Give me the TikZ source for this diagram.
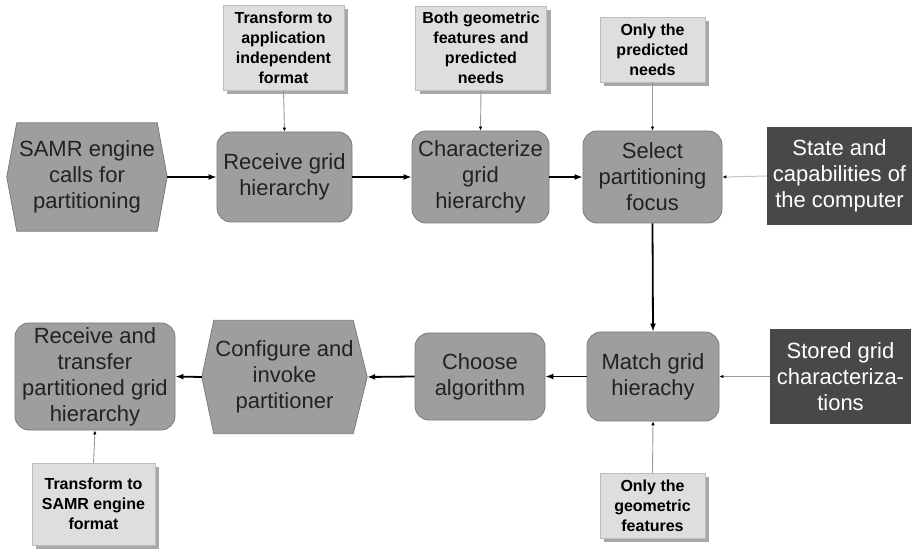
\documentclass[tikz,border=0pt]{standalone}
\usepackage{fontspec}
\setmainfont{Liberation Sans}
\usetikzlibrary{arrows.meta,shadows,backgrounds}
\definecolor{mainfill}{HTML}{9E9E9E}
\definecolor{mainborder}{HTML}{7A7A7A}
\definecolor{darkfill}{HTML}{484848}
\definecolor{lightfill}{HTML}{DEDEDE}
\definecolor{shadowfill}{HTML}{A8A8A8}
\definecolor{thinline}{HTML}{9A9A9A}
\definecolor{paleline}{HTML}{C4C4C4}
\definecolor{maintext}{HTML}{222222}
\tikzset{
  bigtext/.style={font=\fontsize{22}{26}\selectfont, align=center, text=maintext},
  roundbox/.style={bigtext, rectangle, rounded corners=14pt, fill=mainfill, draw=mainborder, line width=0.8pt, inner sep=0pt},
  hexbox/.style={bigtext, rectangle, inner sep=0pt},
  darkbox/.style={font=\fontsize{22}{26}\selectfont, align=center, text=white, rectangle, fill=darkfill, draw=none, inner sep=0pt},
  notebox/.style={font=\fontsize{16}{20}\selectfont\bfseries, align=center, text=black, rectangle, fill=lightfill, draw=lightfill!85!black, line width=0.4pt, inner sep=0pt,
     copy shadow={shadow xshift=4pt, shadow yshift=-4pt, fill=shadowfill, draw=none}},
  mainflow/.style={line width=1.8pt, black, -{Latex[length=8pt,width=6pt]}},
  sideflow/.style={line width=0.9pt, thinline, -{Latex[length=4pt,width=3.5pt,color=black]}},
  paleflow/.style={line width=1pt, paleline, -{Latex[length=4pt,width=3.5pt,color=black]}},
  hexshape/.style={fill=mainfill, draw=mainborder, line width=0.8pt},
}
\begin{document}
\begin{tikzpicture}[x=1pt,y=-1pt]
\useasboundingbox (0,0) rectangle (913,553);

% main flow nodes
\node[hexbox, minimum width=160, minimum height=108] (samr) at (87,177) {SAMR engine\\calls for\\partitioning};
\node[roundbox, minimum width=135, minimum height=90] (recv) at (284.5,177) {Receive grid\\hierarchy};
\node[roundbox, minimum width=137, minimum height=92] (charz) at (480.5,177) {Characterize\\grid\\hierarchy};
\node[roundbox, minimum width=139, minimum height=92] (select) at (652.5,177) {Select\\partitioning\\focus};
\node[roundbox, minimum width=132, minimum height=89] (match) at (653,376.5) {Match grid\\hierachy};
\node[roundbox, minimum width=130, minimum height=87] (choose) at (480,376.5) {Choose\\algorithm};
\node[hexbox, minimum width=165, minimum height=113] (config) at (284.5,377) {Configure and\\invoke\\partitioner};
\node[roundbox, minimum width=160, minimum height=107] (recvt) at (95,376.5) {Receive and\\transfer\\partitioned grid\\hierarchy};

% hexagon outlines
\begin{scope}[on background layer]
\draw[hexshape] (samr.west) -- ([xshift=10pt]samr.north west) -- ([xshift=-10pt]samr.north east) -- (samr.east) -- ([xshift=-10pt]samr.south east) -- ([xshift=10pt]samr.south west) -- cycle;
\draw[hexshape] (config.west) -- ([xshift=12pt]config.north west) -- ([xshift=-14pt]config.north east) -- (config.east) -- ([xshift=-14pt]config.south east) -- ([xshift=12pt]config.south west) -- cycle;
\end{scope}

% dark resource boxes
\node[darkbox, minimum width=145, minimum height=98] (state) at (839.5,176) {State and\\capabilities of\\the computer};
\node[darkbox, minimum width=141, minimum height=95] (stored) at (840.5,376.5) {Stored grid\\characteriza-\\tions};

% note boxes
\node[notebox, minimum width=121, minimum height=85] (t1) at (283.5,47.5) {Transform to\\application\\independent\\format};
\node[notebox, minimum width=131, minimum height=84] (t2) at (481,48) {Both geometric\\features and\\predicted\\needs};
\node[notebox, minimum width=105, minimum height=65] (t3) at (652.5,49.5) {Only the\\predicted\\needs};
\node[notebox, minimum width=105, minimum height=65] (t4) at (652.5,505.5) {Only the\\geometric\\features};
\node[notebox, minimum width=123, minimum height=82] (t5) at (93.5,504) {Transform to\\SAMR engine\\format};

% main connectors
\draw[mainflow] (samr.east) -- (recv.west);
\draw[mainflow] (recv.east) -- (charz.west);
\draw[mainflow] (charz.east) -- (select.west);
\draw[mainflow] (select.south) -- (match.north);
\draw[mainflow] (match.west) -- (choose.east);
\draw[mainflow] (choose.west) -- (config.east);
\draw[mainflow] (config.west) -- (recvt.east);

% side connectors
\draw[sideflow] (t1.south) -- (recv.north);
\draw[sideflow] (t2.south) -- (charz.north);
\draw[sideflow] (t3.south) -- (select.north);
\draw[paleflow] (state.west) -- (select.east);
\draw[sideflow] (stored.west) -- (match.east);
\draw[sideflow] (t4.north) -- (match.south);
\draw[sideflow] (t5.north) -- (recvt.south);
\end{tikzpicture}
\end{document}
